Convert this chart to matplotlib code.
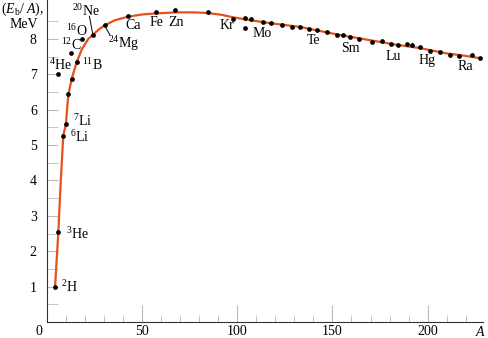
import matplotlib
matplotlib.use("Agg")
import matplotlib.pyplot as plt

# measured points (mass number A, binding energy per nucleon in MeV)
point_A = [4.5, 6.2, 6.2, 8.8, 10.2, 11.4, 13.2, 12.9, 15.8, 18.8, 24.2, 30.7, 42.9,
           57.4, 67.4, 84.9, 98.0, 103.9, 104.1, 107.4, 113.6, 117.9, 123.4, 128.6,
           133.0, 137.5, 141.8, 146.9, 152.3, 155.7, 159.2, 164.2, 170.6, 175.9,
           180.9, 184.6, 189.0, 191.6, 195.7, 201.2, 206.5, 211.5, 216.5, 223.1, 227.4]
point_E = [1.00, 2.53, 7.01, 5.27, 5.60, 6.44, 6.87, 7.61, 7.34, 7.99, 8.11, 8.39, 8.66,
           8.75, 8.81, 8.75, 8.57, 8.31, 8.58, 8.57, 8.48, 8.44, 8.38, 8.34,
           8.34, 8.29, 8.24, 8.20, 8.12, 8.10, 8.06, 8.01, 7.90, 7.95,
           7.87, 7.82, 7.87, 7.82, 7.77, 7.67, 7.63, 7.55, 7.52, 7.55, 7.45]

# fitted curve
curve_A = [4.5, 6.2, 7.5, 8.8, 10.2, 11.4, 13.2, 15.8, 18.5, 21.9, 24.2, 27.5, 30.7,
           36.0, 43.0, 50.0, 57.0, 68.0, 78.0, 85.0, 92.0, 98.0, 108.0, 118.0,
           133.0, 152.0, 168.0, 183.0, 196.0, 210.0, 220.0, 228.0]
curve_E = [1.00, 2.53, 4.00, 5.27, 5.60, 6.40, 6.87, 7.34, 7.70, 8.00, 8.11, 8.27, 8.39,
           8.53, 8.63, 8.69, 8.72, 8.75, 8.75, 8.73, 8.68, 8.61, 8.52, 8.44,
           8.34, 8.13, 7.98, 7.84, 7.74, 7.59, 7.52, 7.45]

# isotope / element labels
label_text = [r'$^{2}$H', r'$^{3}$He', r'$^{6}$Li', r'$^{7}$Li', r'$^{4}$He', r'$^{11}$B',
              r'$^{12}$C', r'$^{16}$O', r'$^{20}$Ne', r'$^{24}$Mg', 'Ca', 'Fe', 'Zn',
              'Kr', 'Mo', 'Te', 'Sm', 'Lu', 'Hg', 'Ra']
label_A = [7.6, 10.2, 12.3, 13.9, 1.3, 18.6, 7.6, 10.0, 13.4, 32.3, 41.2, 54.3, 63.7,
           91.0, 108.3, 136.4, 154.8, 177.9, 195.2, 215.9]
label_E = [1.0, 2.49, 5.23, 5.67, 7.26, 7.26, 7.82, 8.23, 8.79, 7.88, 8.38, 8.45, 8.45,
           8.38, 8.16, 7.95, 7.72, 7.49, 7.40, 7.21]

plt.rcParams['font.family'] = ['Liberation Serif', 'DejaVu Serif']
plt.rcParams['mathtext.fontset'] = 'custom'
plt.rcParams['mathtext.rm'] = 'Liberation Serif'
plt.rcParams['mathtext.it'] = 'Liberation Serif:italic'

fig = plt.figure(figsize=(4.88, 3.38), dpi=100)
ax = fig.add_axes([46.5 / 488, 16 / 338, (483 - 46.5) / 488, 322 / 338])

ax.plot(curve_A, curve_E, color='#e8501c', linewidth=1.6, zorder=2)
ax.plot(point_A, point_E, 'o', color='black', markersize=2.4, zorder=3)

for t, a, e in zip(label_text, label_A, label_E):
    ax.text(a, e, t, fontsize=10, ha='left', va='center')

# leader lines for Ne and Mg
ax.plot([22.5, 24.2], [8.64, 8.16], color='black', linewidth=0.7)
ax.plot([30.7, 33.3], [8.36, 8.11], color='black', linewidth=0.7)

ax.set_xlim(0, 229)
ax.set_ylim(0, 9.1)

ax.spines['top'].set_visible(False)
ax.spines['right'].set_visible(False)
ax.spines['left'].set_color('#333333')
ax.spines['bottom'].set_color('#333333')

ax.set_xticks([50, 100, 150, 200])
ax.set_xticks(range(10, 230, 10), minor=True)
ax.set_yticks(range(1, 9))
ax.set_yticks([i + 0.5 for i in range(0, 9)], minor=True)
ax.tick_params(axis='x', which='major', direction='in', length=12, color='#bbbbbb', labelsize=10, pad=2)
ax.tick_params(axis='x', which='minor', direction='in', length=5, color='#bbbbbb')
ax.tick_params(axis='y', which='both', direction='in', length=8, color='#bbbbbb', labelsize=10, pad=7)

ax.text(-8 / 1.906, -10 / 35.4, '0', fontsize=10, ha='center', va='center', clip_on=False)
ax.text(228, -10 / 35.4, r'$A$', fontsize=10, ha='center', va='center', clip_on=False)

fig.text(1 / 488, 1 - 9 / 338, r'$(E_\mathrm{b}/\ A)$,', fontsize=10, ha='left', va='center')
fig.text(24 / 488, 1 - 24 / 338, 'MeV', fontsize=10, ha='center', va='center')

plt.savefig('out.png', dpi=100)
